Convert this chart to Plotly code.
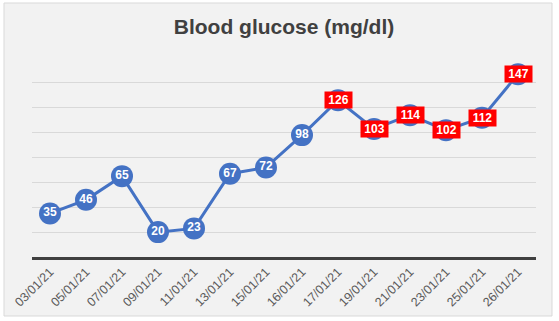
import plotly.graph_objects as go

dates = ["03/01/21", "05/01/21", "07/01/21", "09/01/21", "11/01/21", "13/01/21", "15/01/21",
         "16/01/21", "17/01/21", "19/01/21", "21/01/21", "23/01/21", "25/01/21", "26/01/21"]
glucose = [35, 46, 65, 20, 23, 67, 72, 98, 126, 103, 114, 102, 112, 147]
threshold = 100

blue = "#4472C4"
fig = go.Figure()
fig.add_trace(go.Scatter(
    x=dates, y=glucose, mode="lines+markers+text",
    line=dict(color=blue, width=3),
    marker=dict(size=22, color=blue),
    text=[str(v) if v <= threshold else "" for v in glucose],
    textposition="middle center",
    textfont=dict(color="white", size=12, family="Liberation Sans"),
    texttemplate="<b>%{text}</b>",
    hoverinfo="skip",
    cliponaxis=False,
))

for d, v in zip(dates, glucose):
    if v > threshold:
        fig.add_annotation(x=d, y=v, text=f"<b>{v}</b>", showarrow=False,
                           bgcolor="#FF0000", font=dict(color="white", size=12, family="Liberation Sans"),
                           width=27, height=16, borderpad=0, xanchor="center", yanchor="middle")

L, R, T, B = 32, 23, 57, 64
W, H = 559, 321
pw, ph = W - L - R, H - T - B
def px(x): return (x - L) / pw
def py(y): return (H - B - y) / ph

fig.add_shape(type="rect", xref="paper", yref="paper",
              x0=px(4), x1=px(552), y0=py(316), y1=py(3),
              fillcolor="#F2F2F2", line=dict(color="#D9D9D9", width=1), layer="below")

fig.update_layout(
    width=W, height=H,
    margin=dict(l=L, r=R, t=T, b=B, autoexpand=False),
    paper_bgcolor="white", plot_bgcolor="rgba(0,0,0,0)",
    showlegend=False,
    title=dict(text="<b>Blood glucose (mg/dl)</b>", x=0.5, xref="paper", xanchor="center",
               y=1 - 27 / H, yanchor="middle",
               font=dict(size=21, color="#404040", family="Liberation Sans")),
    xaxis=dict(type="category", range=[-0.5, len(dates) - 0.5], showgrid=False, showline=True,
               linecolor="#404040", linewidth=2.5,
               tickangle=-45, tickfont=dict(size=12.5, color="#595959", family="Liberation Sans"),
               ticks="", fixedrange=True, automargin=False),
    yaxis=dict(range=[0, 160.8], dtick=20, showgrid=True, gridcolor="#D9D9D9", gridwidth=1,
               showticklabels=False, zeroline=False, fixedrange=True, automargin=False),
)

fig.write_html("out.html", config={"displayModeBar": False},
               post_script="document.body.style.margin='0';")
